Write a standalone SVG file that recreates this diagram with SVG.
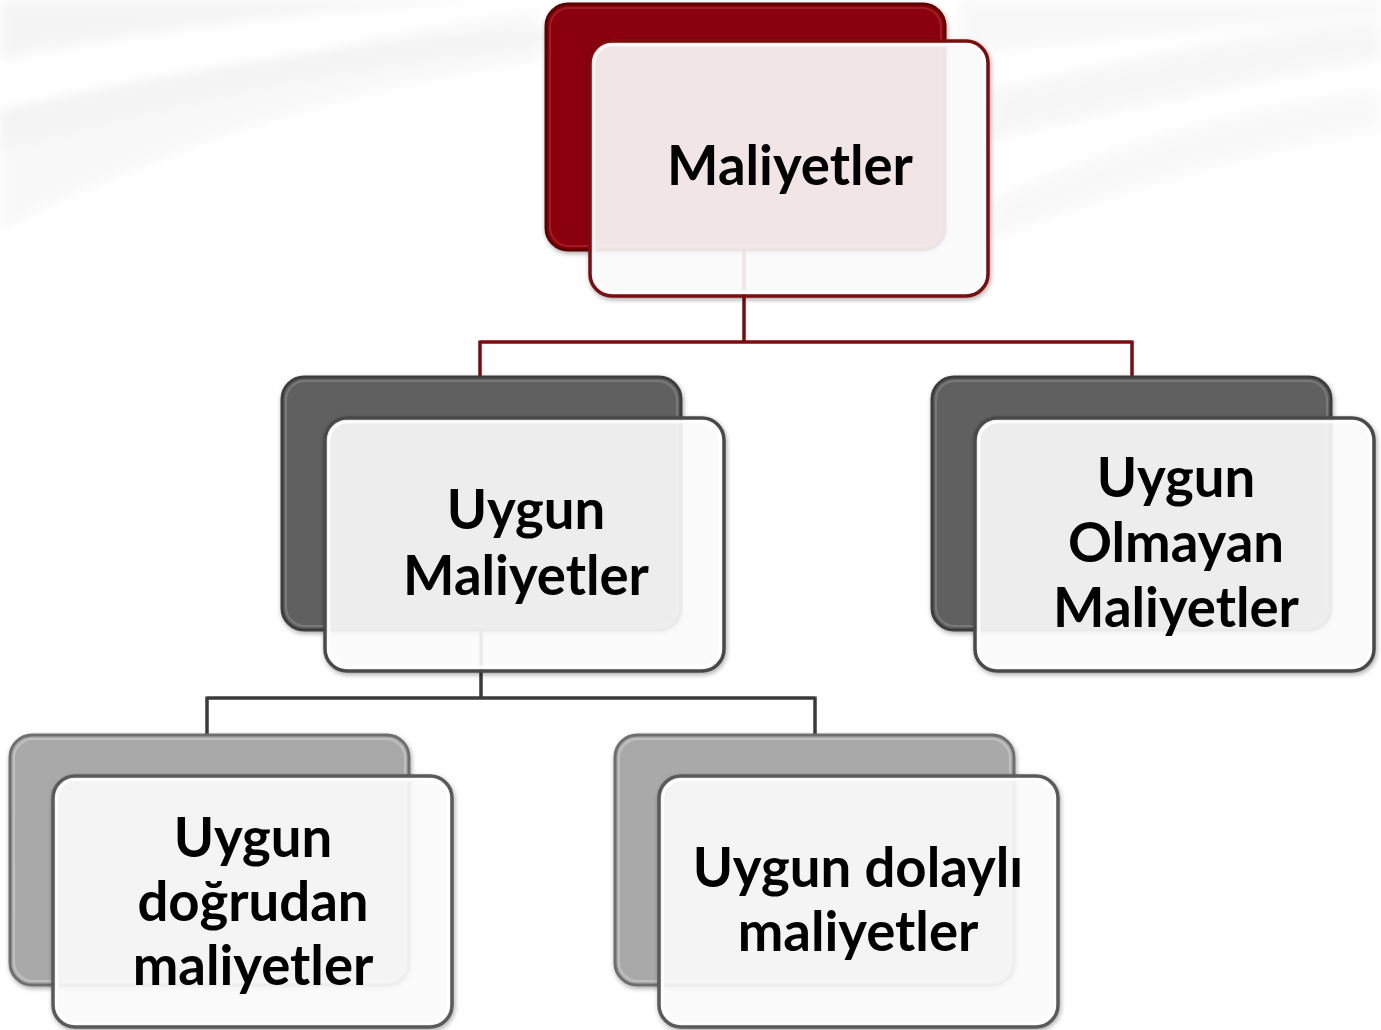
<svg xmlns="http://www.w3.org/2000/svg" width="1381" height="1030" viewBox="0 0 1381 1030">
<defs>
<style>
.lbl{font-family:Lato,"Open Sans","Liberation Sans",sans-serif;font-weight:bold;font-size:54.5px;fill:#000;text-anchor:middle}
.front{fill:#fff;fill-opacity:0.88;stroke-width:3.5}
.frontIn{fill:none;stroke:#fff;stroke-width:2.5;stroke-opacity:0.9}
.backIn{fill:none;stroke-width:2;stroke-opacity:0.6}
.conR{fill:none;stroke:#7d0a0e;stroke-width:3.5}
.conG{fill:none;stroke:#3a3a3a;stroke-width:3.5}
</style>
<filter id="sh" x="-10%" y="-10%" width="120%" height="120%">
<feGaussianBlur in="SourceAlpha" stdDeviation="2.5"/>
<feOffset dx="1" dy="2" result="b"/>
<feComponentTransfer><feFuncA type="linear" slope="0.35"/></feComponentTransfer>
<feMerge><feMergeNode/><feMergeNode in="SourceGraphic"/></feMerge>
</filter>
<filter id="soft"><feGaussianBlur stdDeviation="6"/></filter>
</defs>
<rect width="1381" height="1030" fill="#fff"/>
<g id="background" opacity="0.4" filter="url(#soft)">
<path d="M0 60 C200 20 420 0 560 0 L0 0 Z" fill="#e6e6e6"/>
<path d="M0 150 C150 90 320 40 540 10 L540 60 C330 90 160 150 0 230 Z" fill="#efefef"/>
<path d="M0 110 C180 70 360 40 545 30 L545 45 C360 60 180 100 0 150 Z" fill="#e2e2e2"/>
<path d="M990 90 C1120 60 1260 30 1381 20 L1381 60 C1260 80 1120 110 990 140 Z" fill="#ebebeb"/>
<path d="M990 200 C1120 140 1260 100 1381 90 L1381 130 C1260 150 1120 190 990 240 Z" fill="#f0f0f0"/>
<path d="M960 0 L1381 0 L1381 15 C1250 25 1100 40 960 55 Z" fill="#eeeeee"/>
</g>
<g id="connectors">
<path class="conR" d="M744 230 V342 M480 342 H1132 M480 340.5 V377 M1132 340.5 V377"/>
<path class="conG" d="M481 610 V698 M207 698 H815 M207 696.5 V735 M815 696.5 V735"/>
</g>
<g id="node-maliyetler">
<rect x="546" y="4" width="399" height="246" rx="22" fill="#8b0609" stroke="#5e0205" stroke-width="3" filter="url(#sh)"/>
<rect x="550" y="8" width="391" height="238" rx="19" class="backIn" stroke="#b03033"/>
<rect x="590" y="41" width="398" height="255" rx="22" class="front" stroke="#7a0a0e" filter="url(#sh)"/>
<rect x="594" y="45" width="390" height="247" rx="19" class="frontIn"/>
<text class="lbl" x="790" y="185">Maliyetler</text>
</g>
<g id="node-uygun-maliyetler">
<rect x="282" y="377" width="399" height="253" rx="22" fill="#606060" stroke="#3c3c3c" stroke-width="3" filter="url(#sh)"/>
<rect x="286" y="381" width="391" height="245" rx="19" class="backIn" stroke="#8a8a8a"/>
<rect x="325" y="418" width="399" height="253" rx="22" class="front" stroke="#4a4a4a" filter="url(#sh)"/>
<rect x="329" y="422" width="391" height="245" rx="19" class="frontIn"/>
<text class="lbl" x="526" y="529">Uygun</text>
<text class="lbl" x="526" y="595">Maliyetler</text>
</g>
<g id="node-uygun-olmayan">
<rect x="932" y="377" width="399" height="253" rx="22" fill="#606060" stroke="#3c3c3c" stroke-width="3" filter="url(#sh)"/>
<rect x="936" y="381" width="391" height="245" rx="19" class="backIn" stroke="#8a8a8a"/>
<rect x="975" y="418" width="399" height="253" rx="22" class="front" stroke="#4a4a4a" filter="url(#sh)"/>
<rect x="979" y="422" width="391" height="245" rx="19" class="frontIn"/>
<text class="lbl" x="1176" y="497">Uygun</text>
<text class="lbl" x="1176" y="562">Olmayan</text>
<text class="lbl" x="1176" y="627">Maliyetler</text>
</g>
<g id="node-uygun-dogrudan">
<rect x="10" y="735" width="399" height="250" rx="22" fill="#a9a9a9" stroke="#6e6e6e" stroke-width="3" filter="url(#sh)"/>
<rect x="14" y="739" width="391" height="242" rx="19" class="backIn" stroke="#d0d0d0"/>
<rect x="53" y="776" width="399" height="251" rx="22" class="front" stroke="#5a5a5a" filter="url(#sh)"/>
<rect x="57" y="780" width="391" height="243" rx="19" class="frontIn"/>
<text class="lbl" x="253" y="857">Uygun</text>
<text class="lbl" x="253" y="921">doğrudan</text>
<text class="lbl" x="253" y="985">maliyetler</text>
</g>
<g id="node-uygun-dolayli">
<rect x="615" y="735" width="399" height="250" rx="22" fill="#a9a9a9" stroke="#6e6e6e" stroke-width="3" filter="url(#sh)"/>
<rect x="619" y="739" width="391" height="242" rx="19" class="backIn" stroke="#d0d0d0"/>
<rect x="659" y="776" width="399" height="251" rx="22" class="front" stroke="#5a5a5a" filter="url(#sh)"/>
<rect x="663" y="780" width="391" height="243" rx="19" class="frontIn"/>
<text class="lbl" x="858" y="887">Uygun dolaylı</text>
<text class="lbl" x="858" y="951">maliyetler</text>
</g>
</svg>
